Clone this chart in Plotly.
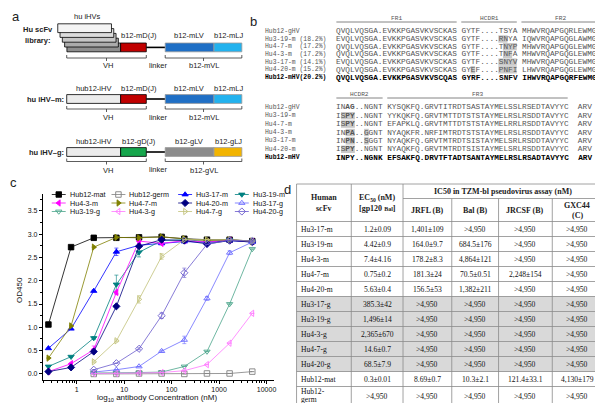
import plotly.graph_objects as go

W, H = 603, 403
SANS = "Liberation Sans"
SERIF = "Liberation Serif"
MONO = "Liberation Mono"

# ================= Panel c data =================
conc_nM = [0.254, 0.762, 2.29, 6.86, 20.6, 61.7, 185.2, 555.6, 1666.7, 5000.0]
series_names = ["Hub12-mat", "Hub12-germ", "Hu3-17-m", "Hu3-19-m",
                "Hu4-3-m", "Hu4-7-m", "Hu4-20-m", "Hu3-17-g",
                "Hu3-19-g", "Hu4-3-g", "Hu4-7-g", "Hu4-20-g"]
od_hub12_mat  = [1.06, 2.72, 2.92, 2.92, 2.93, 2.94, 2.90, 2.88, 2.88, 2.85]
od_hub12_germ = [None, None, 0.00, 0.00, 0.01, 0.01, 0.00, 0.01, 0.01, 0.05]
od_hu3_17_m   = [0.55, 0.97, 1.78, 2.62, 2.76, 2.80, 2.84, 2.82, 2.86, 2.83]
od_hu3_19_m   = [0.16, 0.37, 0.77, 1.92, 2.61, 2.86, 2.88, 2.84, 2.87, 2.84]
od_hu4_3_m    = [0.05, 0.22, 0.52, 1.75, 2.85, 2.80, 2.86, 2.83, 2.87, 2.84]
od_hu4_7_m    = [0.34, 1.03, 2.72, 2.93, 2.92, 2.94, 2.90, 2.86, 2.88, 2.84]
od_hu4_20_m   = [0.05, 0.14, 0.48, 1.45, 2.74, 2.88, 2.86, 2.79, 2.86, 2.83]
od_hu3_17_g   = [None, None, 0.04, 0.09, 0.16, 0.49, 0.73, 1.62, 2.60, 2.83]
od_hu3_19_g   = [None, None, 0.02, 0.02, 0.03, 0.04, 0.16, 0.48, 1.50, 2.68]
od_hu4_3_g    = [None, None, 0.01, 0.01, 0.02, 0.03, 0.07, 0.20, 0.66, 1.30]
od_hu4_7_g    = [None, None, 0.26, 0.71, 1.60, 2.52, 2.88, 2.88, 2.88, 2.85]
od_hu4_20_g   = [None, None, 0.09, 0.23, 0.54, 1.25, 2.17, 2.78, 2.87, 2.85]
od_values = [od_hub12_mat, od_hub12_germ, od_hu3_17_m, od_hu3_19_m,
             od_hu4_3_m, od_hu4_7_m, od_hu4_20_m, od_hu3_17_g,
             od_hu3_19_g, od_hu4_3_g, od_hu4_7_g, od_hu4_20_g]
err_hu3_17_m = [0, 0, 0.02, 0.08, 0.03, 0, 0, 0, 0, 0]
err_hu3_19_m = [0, 0, 0.03, 0.20, 0.10, 0, 0, 0, 0, 0]
err_hu4_3_m  = [0, 0, 0.08, 0.05, 0.04, 0, 0, 0, 0, 0]
err_hu3_17_g = [0, 0, 0, 0, 0, 0.02, 0.08, 0.04, 0.04, 0]
err_hu4_7_g  = [0, 0, 0.02, 0.02, 0.08, 0.06, 0, 0, 0, 0]
err_hu4_20_g = [0, 0, 0, 0, 0.02, 0.06, 0.10, 0, 0, 0]
err_zero = [0] * 10
od_errors = [err_zero, err_zero, err_hu3_17_m, err_hu3_19_m, err_hu4_3_m,
             err_zero, err_zero, err_hu3_17_g, err_zero, err_zero,
             err_hu4_7_g, err_hu4_20_g]
x_tick_vals = [1, 10, 100, 1000, 10000]
x_tick_text = ["1", "10", "100", "1000", "10000"]
y_tick_vals = [0.0, 0.5, 1.0, 1.5, 2.0, 2.5, 3.0, 3.5]

# ================= Panel d data =================
tbl_scfv = ["Hu3-17-m", "Hu3-19-m", "Hu4-3-m", "Hu4-7-m", "Hu4-20-m",
            "Hu3-17-g", "Hu3-19-g", "Hu4-3-g", "Hu4-7-g", "Hu4-20-g",
            "Hub12-mat", "Hub12-<br>germ"]
tbl_ec50 = ["1.2±0.09", "4.42±0.9", "7.4±4.16", "0.75±0.2", "5.63±0.4",
            "385.3±42", "1,496±14", "2,365±670", "14.6±0.7", "68.5±7.9",
            "0.3±0.01", ">4,950"]
tbl_jrfl = ["1,401±109", "164.0±9.7", "178.2±8.3", "181.3±24", "156.5±53",
            ">4,950", ">4,950", ">4,950", ">4,950", ">4,950", "8.69±0.7", ">4,950"]
tbl_bal = [">4,950", "684.5±176", "4,864±121", "70.5±0.51", "1,382±211",
           ">4,950", ">4,950", ">4,950", ">4,950", ">4,950", "10.3±2.1", ">4,950"]
tbl_jrcsf = [">4,950", ">4,950", ">4,950", "2,248±154", ">4,950",
             ">4,950", ">4,950", ">4,950", ">4,950", ">4,950", "121.4±33.1", ">4,950"]
tbl_gxc44 = [">4,950", ">4,950", ">4,950", ">4,950", ">4,950",
             ">4,950", ">4,950", ">4,950", ">4,950", ">4,950", "4,130±179", ">4,950"]

# ================= Panel b data =================
seq_names = ["Hub12-gHV", "Hu3-19-m", "Hu4-7-m", "Hu4-3-m", "Hu3-17-m", "Hu4-20-m", "Hub12-mHV"]
seq_pct = ["", "18.2%", "17.2%", "17.2%", "14.1%", "15.2%", "20.2%"]
seq_fr1 = ["QVQLVQSGA.EVKKPGASVKVSCKAS", "EVQLVQSGA.EVKKPGASVKVSCKAS",
           "QVQLVQSGA.EVKKPGASVKVSCKAS", "QVQLVQSGA.EVKKPGASVKVSCKAS",
           "EVQLVQSGA.EVKKPGASVKVSCKAS", "QVQLVQSGA.EVKKPGASVKVSCKAS",
           "QVQLVQSGA.EVKKPGASVKVSCQAS"]
seq_hcdr1 = ["GYTF....TSYA", "GYTF....RNYA", "GYTF....TNYP", "GYTF....TNFA",
             "GYTF....SNYV", "GYEF....PNFI", "GYRF....SNFV"]
seq_fr2 = ["MHWVRQAPGQRLEWMGW", "IQWVRQAPGQGLAWMGW", "MHWVRQAPGQGLEWMGW",
           "MHWVRQAPGQGLEWMGT", "MHWVRQAPGQGLEWMGW", "LHWVRQAPGQGLEWMGW",
           "IHWVRQAPGQRFEWMGW"]
seq_hcdr2 = ["INAG..NGNT", "ISPY..NGNT", "ISPY..NGNT", "INPA..GGNT",
             "INPN..SGGT", "ISPY..NGNT", "INPY..NGNK"]
seq_fr3 = ["KYSQKFQ.GRVTITRDTSASTAYMELSSLRSEDTAVYYC",
           "YYKQKFQ.GRVTMTTDTSTSTAYMELRSLRSDDTAVYYC",
           "EFAPKLQ.GRVTMTTDTSTSTAYMELRRLRSDDTAVYYC",
           "NYAQKFR.NRFIMTRDTSTSTAYMELRSLRSDDTAVYYC",
           "NYAQKFQ.GRVTMTRDTSISTAYMELSRLRSDDTAVYYC",
           "NYAQKFQ.GRVTMTRDTSISTAYMELSRLRSDDTAVYYC",
           "EFSAKFQ.DRVTFTADTSANTAYMELRSLRSADTAVYYC"]
seq_end = ["ARV"] * 7
hl_block1 = [[], [(35, 36)], [(36, 38)], [(36, 37)], [(35, 38)], [(29, 29), (35, 38)], []]
hl_block2 = [[], [(1, 3)], [(1, 3)], [(2, 3), (6, 6)], [(2, 3), (6, 6)], [(1, 3)], []]
bold_block2 = [[(2, 3)], [(2, 3)], [(2, 3)], [(2, 3)], [(2, 3)], [(2, 3)], [(0, 60)]]

# ================= figure =================
colors = ["#000000", "#808080", "#0000ff", "#008080", "#ff00ff", "#808000",
          "#000080", "#6b6bff", "#4aa58a", "#ff77ff", "#c2c27a", "#6a5acd"]
symbols = ["square", "square-open", "triangle-up", "triangle-down",
           "triangle-left", "triangle-right", "diamond", "triangle-up-open",
           "triangle-down-open", "triangle-left-open", "triangle-right-open",
           "diamond-open"]

fig = go.Figure()
for name, vals, errs, c, s in zip(series_names, od_values, od_errors, colors, symbols):
    fig.add_trace(go.Scatter(
        x=conc_nM, y=vals, name=name, mode="lines+markers",
        line=dict(color=c, width=0.8),
        marker=dict(symbol=s, size=5.5, color=c, line=dict(color=c, width=0.9)),
        error_y=dict(type="data", array=errs, visible=True, color=c, thickness=0.6, width=2),
        xaxis="x", yaxis="y", showlegend=False))

shapes = []
annots = []


def rect(x0, y0, x1, y1, fill, line="#000", lw=0.8):
    shapes.append(dict(type="rect", xref="x2", yref="y2", x0=x0, y0=y0, x1=x1, y1=y1,
                       fillcolor=fill, line=dict(color=line, width=lw), layer="above"))


def seg(x0, y0, x1, y1, color="#000", lw=0.8):
    shapes.append(dict(type="line", xref="x2", yref="y2", x0=x0, y0=y0, x1=x1, y1=y1,
                       line=dict(color=color, width=lw), layer="above"))


def text(x, y, s, size=7.5, family=SANS, color="#222", xanchor="center",
         yanchor="middle", angle=0, align="center"):
    annots.append(dict(x=x, y=y, xref="x2", yref="y2", text=s, showarrow=False,
                       font=dict(size=size, family=family, color=color),
                       xanchor=xanchor, yanchor=yanchor, textangle=angle,
                       borderpad=0, borderwidth=0, align=align))


# ---------- panel labels ----------
text(8, 8, "a", size=13)
text(247, 13, "b", size=13)
text(6, 174, "c", size=13)
text(281, 181, "d", size=13)

# ---------- panel a ----------
def bracket(x0, x1, y):
    seg(x0, y, x1, y, "#333")
    seg(x0, y - 3, x0, y, "#333")
    seg(x1, y - 3, x1, y, "#333")
    seg((x0 + x1) / 2, y, (x0 + x1) / 2, y + 3, "#333")

stack_fill = ["#f4f4f4", "#dcdcdc", "#c6c6c6", "#ababab", "#8e8e8e"]
for k in range(4, -1, -1):
    x0 = 50 + 2.3 * k
    y0 = 15.8 + 4.8 * k
    rect(x0, y0, x0 + 54, y0 + 8.8, stack_fill[k])
rows_a = [
    dict(y=35.0, lab_y=27, br_y=50, bl_y=57.5, first="#8e8e8e", d="#c00000",
         lv="#1f6fc5", lj="#22b2ee", dl="b12-mD(J)", lvl="b12-mLV", ljl="b12-mLJ",
         vll="b12-mVL", ihv=None),
    dict(y=86.6, lab_y=80.5, br_y=101, bl_y=109.5, first="#ececec", d="#c00000",
         lv="#1f6fc5", lj="#22b2ee", dl="b12-mD(J)", lvl="b12-mLV", ljl="b12-mLJ",
         vll="b12-mVL", ihv="hub12-iHV"),
    dict(y=139.6, lab_y=133.5, br_y=153.5, bl_y=162, first="#ececec", d="#16a64c",
         lv="#8c8c8c", lj="#f2b400", dl="b12-gD(J)", lvl="b12-gLV", ljl="b12-gLJ",
         vll="b12-gVL", ihv="hub12-iHV"),
]
for r in rows_a:
    y0, y1 = r["y"], r["y"] + 8.8
    if r["ihv"] is not None:
        rect(59, y0, 113.2, y1, r["first"])
        text(86, r["lab_y"], r["ihv"])
    rect(113.2, y0, 139, y1, r["d"])
    seg(139, (y0 + y1) / 2, 158, (y0 + y1) / 2, "#000", 1.6)
    rect(158, y0, 207, y1, r["lv"], "#9a9a9a")
    rect(207, y0, 235, y1, r["lj"], "#9a9a9a")
    text(132, r["lab_y"], r["dl"])
    text(182, r["lab_y"], r["lvl"])
    text(222, r["lab_y"], r["ljl"])
    bracket(59, 139, r["br_y"])
    bracket(158, 235, r["br_y"])
    text(100, r["bl_y"], "VH")
    text(151, r["bl_y"] - 0.5, "linker")
    text(196.5, r["bl_y"], r["vll"])
text(80, 8.5, "hu iHVs")
text(30, 21, "<b>Hu scFv</b>", size=7.5, color="#222")
text(30, 32, "<b>library:</b>", size=7.5, color="#222")
text(56, 91, "<b>hu iHV–m:</b>", xanchor="right")
text(56, 144, "<b>hu iHV–g:</b>", xanchor="right")

# ---------- panel b ----------
b_fs = 7.75
b_cw = 0.6 * b_fs
b_x_seq = 330
b_x_lab = 258
b1_y = [23.3 + 7.7 * i for i in range(7)]
b2_y = [99.3 + 8.4 * i for i in range(7)]
SEQ_COL = "#555"


def overline(c0, c1, y, label):
    xa = b_x_seq + c0 * b_cw
    xb = b_x_seq + (c1 + 1) * b_cw
    seg(xa, y, xb, y, "#666", 0.8)
    text((xa + xb) / 2, y - 4, label, size=6.2, family=MONO, color="#555")


def highlight(spans, y):
    for a, b in spans:
        rect(b_x_seq + a * b_cw, y - 3.7, b_x_seq + (b + 1) * b_cw, y + 3.7,
             "#c9c9c9", "rgba(0,0,0,0)", 0)


def styled(s, bold_spans):
    out = ""
    for i, ch in enumerate(s):
        ch2 = "\u00a0" if ch == " " else ch
        if any(a <= i <= b for a, b in bold_spans):
            out += "<b>" + ch2 + "</b>"
        else:
            out += ch2
    return out

overline(0, 25, 14, "FR1")
overline(27, 38, 14, "HCDR1")
overline(40, 56, 14, "FR2")
for i in range(7):
    y = b1_y[i]
    highlight(hl_block1[i], y)
    full = seq_fr1[i] + " " + seq_hcdr1[i] + " " + seq_fr2[i]
    last = (i == 6)
    lab = seq_names[i] if not seq_pct[i] else seq_names[i].ljust(9) + "(" + seq_pct[i] + ")"
    lab = lab.replace(" ", "\u00a0")
    col = "#000" if last else SEQ_COL
    text(b_x_lab, y, "<b>" + lab + "</b>" if last else lab, size=6.4, family=MONO,
         color=col, xanchor="left")
    text(b_x_seq, y, styled(full, [(0, 60)] if last else []), size=b_fs, family=MONO,
         color=col, xanchor="left")

overline(0, 9, 90, "HCDR2")
overline(11, 49, 90, "FR3")
for i in range(7):
    y = b2_y[i]
    highlight(hl_block2[i], y)
    full = seq_hcdr2[i] + " " + seq_fr3[i] + "  " + seq_end[i]
    last = (i == 6)
    col = "#000" if last else SEQ_COL
    text(b_x_lab, y, "<b>" + seq_names[i] + "</b>" if last else seq_names[i], size=6.4,
         family=MONO, color=col, xanchor="left")
    text(b_x_seq, y, styled(full, bold_block2[i]), size=b_fs, family=MONO,
         color=col, xanchor="left")

# ---------- panel c legend (keys) & axis titles ----------
leg_text_x = [62, 122, 189, 246]
leg_row_y = [186.5, 195, 203.5]
for i, (name, c, s) in enumerate(zip(series_names, colors, symbols)):
    tx = leg_text_x[i % 4]
    ly = leg_row_y[i // 4]
    fig.add_trace(go.Scatter(
        x=[tx - 18, tx - 11, tx - 4], y=[ly, ly, ly], mode="lines+markers",
        line=dict(color=c, width=0.8),
        marker=dict(symbol=s, size=[0, 5.5, 0], opacity=[0, 1, 0], color=c,
                    line=dict(color=c, width=0.9)),
        xaxis="x2", yaxis="y2", showlegend=False, hoverinfo="skip"))
    text(tx, ly, name, size=7.2, family=SANS, color="#111", xanchor="left")

text(11, 282, "OD450", size=8, family=SANS, color="#111", angle=-90)
text(150, 390, "log<sub>10</sub> antibody Concentration (nM)", size=8, family=SANS, color="#111")

# ---------- panel d table ----------
col_x = [290, 345, 397, 446, 493, 547, 597]
t_top, t_mid, t_hdr = 176, 190.5, 213.5
row_h = 15.0
row_edges = [t_hdr + row_h * k for k in range(12)] + [398]
for k, nm in enumerate(tbl_scfv):
    if nm.endswith("-g"):
        rect(col_x[0], row_edges[k], col_x[-1], row_edges[k + 1], "#d9d9d9",
             "rgba(0,0,0,0)", 0)
LC = "#8a8a8a"
seg(col_x[0], t_top, col_x[-1], t_top, LC)
seg(col_x[2], t_mid, col_x[-1], t_mid, LC)
for yv in row_edges:
    seg(col_x[0], yv, col_x[-1], yv, LC)
for j, xv in enumerate(col_x):
    ys = t_mid if j in (3, 4, 5) else t_top
    seg(xv, ys, xv, row_edges[-1], LC)

HF = 8
text((col_x[0] + col_x[1]) / 2, 189.5, "<b>Human</b>", size=HF, family=SERIF)
text((col_x[0] + col_x[1]) / 2, 200.5, "<b>scFv</b>", size=HF, family=SERIF)
text((col_x[1] + col_x[2]) / 2, 189.5, "<b>EC<sub>50</sub> (nM)</b>", size=HF, family=SERIF)
text((col_x[1] + col_x[2]) / 2, 200.5,
     "<b>[gp120 <span style='font-size:6px'>Bal</span>]</b>", size=HF, family=SERIF)
text((col_x[2] + col_x[-1]) / 2, 183.3, "<b>IC50 in TZM-bl pseudovirus assay (nM)</b>",
     size=HF, family=SERIF)
sub_hdr = ["JRFL (B)", "Bal (B)", "JRCSF (B)"]
for j, hname in enumerate(sub_hdr):
    text((col_x[2 + j] + col_x[3 + j]) / 2, 202.3, "<b>" + hname + "</b>", size=HF, family=SERIF)
text((col_x[5] + col_x[6]) / 2, 197, "<b>GXC44</b>", size=HF, family=SERIF)
text((col_x[5] + col_x[6]) / 2, 207.5, "<b>(C)</b>", size=HF, family=SERIF)

cols_body = [tbl_ec50, tbl_jrfl, tbl_bal, tbl_jrcsf, tbl_gxc44]
BF = 7.6
for k in range(12):
    yc = (row_edges[k] + row_edges[k + 1]) / 2
    parts = tbl_scfv[k].split("<br>")
    if len(parts) == 1:
        text(col_x[0] + 4, yc, parts[0], size=BF, family=SERIF, color="#111",
             xanchor="left", align="left")
    else:
        text(col_x[0] + 4, yc - 5, parts[0], size=BF, family=SERIF, color="#111",
             xanchor="left", align="left")
        text(col_x[0] + 4, yc + 3, parts[1], size=BF, family=SERIF, color="#111",
             xanchor="left", align="left")
    for j, colvals in enumerate(cols_body):
        text((col_x[1 + j] + col_x[2 + j]) / 2, yc, colvals[k].replace(">", "&gt;"),
             size=BF, family=SERIF, color="#111")

fig.update_layout(
    width=W, height=H, margin=dict(l=0, r=0, t=0, b=0),
    paper_bgcolor="white", plot_bgcolor="rgba(0,0,0,0)",
    showlegend=False,
    xaxis=dict(domain=[35 / W, 267 / W], type="log", range=[-0.713, 4.15],
               tickmode="array", tickvals=x_tick_vals, ticktext=x_tick_text,
               ticks="outside", ticklen=3, tickwidth=0.8, tickcolor="#000",
               showline=True, linecolor="#000", linewidth=0.8,
               showgrid=False, zeroline=False,
               minor=dict(ticks="outside", ticklen=2, tickwidth=0.6, tickcolor="#000",
                          dtick="D1", showgrid=False),
               tickfont=dict(size=7, family=SANS, color="#111"), anchor="y"),
    yaxis=dict(domain=[1 - 372 / H, 1 - 186 / H], range=[-0.13, 3.86],
               tickmode="array", tickvals=y_tick_vals,
               ticktext=[f"{v:.1f}" for v in y_tick_vals],
               ticks="outside", ticklen=3, tickwidth=0.8, tickcolor="#000",
               showline=True, linecolor="#000", linewidth=0.8,
               showgrid=False, zeroline=False,
               minor=dict(ticks="outside", ticklen=2, tickwidth=0.6, tickcolor="#000",
                          tick0=0, dtick=0.25, showgrid=False),
               tickfont=dict(size=7, family=SANS, color="#111"), anchor="x"),
    xaxis2=dict(domain=[0, 1], range=[0, W], visible=False, fixedrange=True, anchor="y2"),
    yaxis2=dict(domain=[0, 1], range=[H, 0], visible=False, fixedrange=True, anchor="x2"),
    shapes=shapes, annotations=annots,
)
fig.write_html("out.html")
